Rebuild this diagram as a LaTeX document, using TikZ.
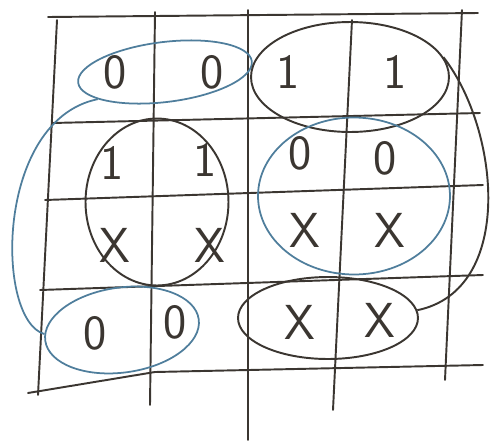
\documentclass[tikz,border=0pt]{standalone}
\usepackage{xcolor}
\usepackage{tikz}
\usetikzlibrary{shapes.geometric}
\definecolor{Pencil}{HTML}{3B3631}
\definecolor{Ink}{HTML}{4F7E9C}

\begin{document}
\begin{tikzpicture}[
        x=0.02cm, y=-0.02cm,
        font=\sffamily\fontsize{28}{30}\selectfont,
        gridline/.style={draw=Pencil, line width=1.1pt, line cap=round},
        val/.style={text=Pencil, inner sep=0pt},
        loopk/.style={ellipse, draw=Pencil, line width=1.1pt, inner sep=0pt},
        loopb/.style={ellipse, draw=Ink, line width=1.0pt, inner sep=0pt},
        wrapk/.style={draw=Pencil, line width=1.1pt},
        wrapb/.style={draw=Ink, line width=1.0pt}
      ]
        \useasboundingbox (0,0) rectangle (498,444);
        % grid
        \draw[gridline] (48,17) -- (478,13);
        \draw[gridline] (52,123) -- (480,113);
        \draw[gridline] (45,200) -- (483,185);
        \draw[gridline] (40,290) -- (483,275);
        \draw[gridline] (28,393) -- (155,372) -- (483,365);
        \draw[gridline] (57,20) -- (38,395);
        \draw[gridline] (155,12) -- (150,405);
        \draw[gridline] (248,10) -- (248,440);
        \draw[gridline] (352,20) -- (333,410);
        \draw[gridline] (462,10) -- (445,380);
        % cell values
        \node[val] (a1) at (115,72) {0};
        \node[val] (a2) at (212,72) {0};
        \node[val] (a3) at (288,72) {1};
        \node[val] (a4) at (395,72) {1};
        \node[val] (b1) at (112,163) {1};
        \node[val] (b2) at (205,160) {1};
        \node[val] (b3) at (300,153) {0};
        \node[val] (b4) at (385,158) {0};
        \node[val] (c1) at (115,245) {X};
        \node[val] (c2) at (210,245) {X};
        \node[val] (c3) at (305,230) {X};
        \node[val] (c4) at (390,230) {X};
        \node[val] (d1) at (95,333) {0};
        \node[val] (d2) at (175,322) {0};
        \node[val] (d3) at (300,322) {X};
        \node[val] (d4) at (380,320) {X};
        % groups
        \node[loopb, minimum width=3.5cm, minimum height=1.2cm, rotate=7] (gTopL) at (165,72) {};
        \node[loopk, minimum width=3.96cm, minimum height=2.2cm] (gTopR) at (350,77) {};
        \node[loopk, minimum width=2.86cm, minimum height=3.34cm] (gMidL) at (157,202) {};
        \node[loopb, minimum width=3.84cm, minimum height=3.14cm] (gMidR) at (354,196) {};
        \node[loopb, minimum width=3.1cm, minimum height=1.7cm, rotate=8] (gBotL) at (122,330) {};
        \node[loopk, minimum width=3.6cm, minimum height=1.64cm] (gBotR) at (328,318) {};
        % wrap-around links
        \draw[wrapb] (gTopL.195) .. controls (-5,120) and (-5,320) .. (gBotL.175);
        \draw[wrapk] (gTopR.12) .. controls (500,130) and (515,290) .. (gBotR.5);
      \end{tikzpicture}
\end{document}
